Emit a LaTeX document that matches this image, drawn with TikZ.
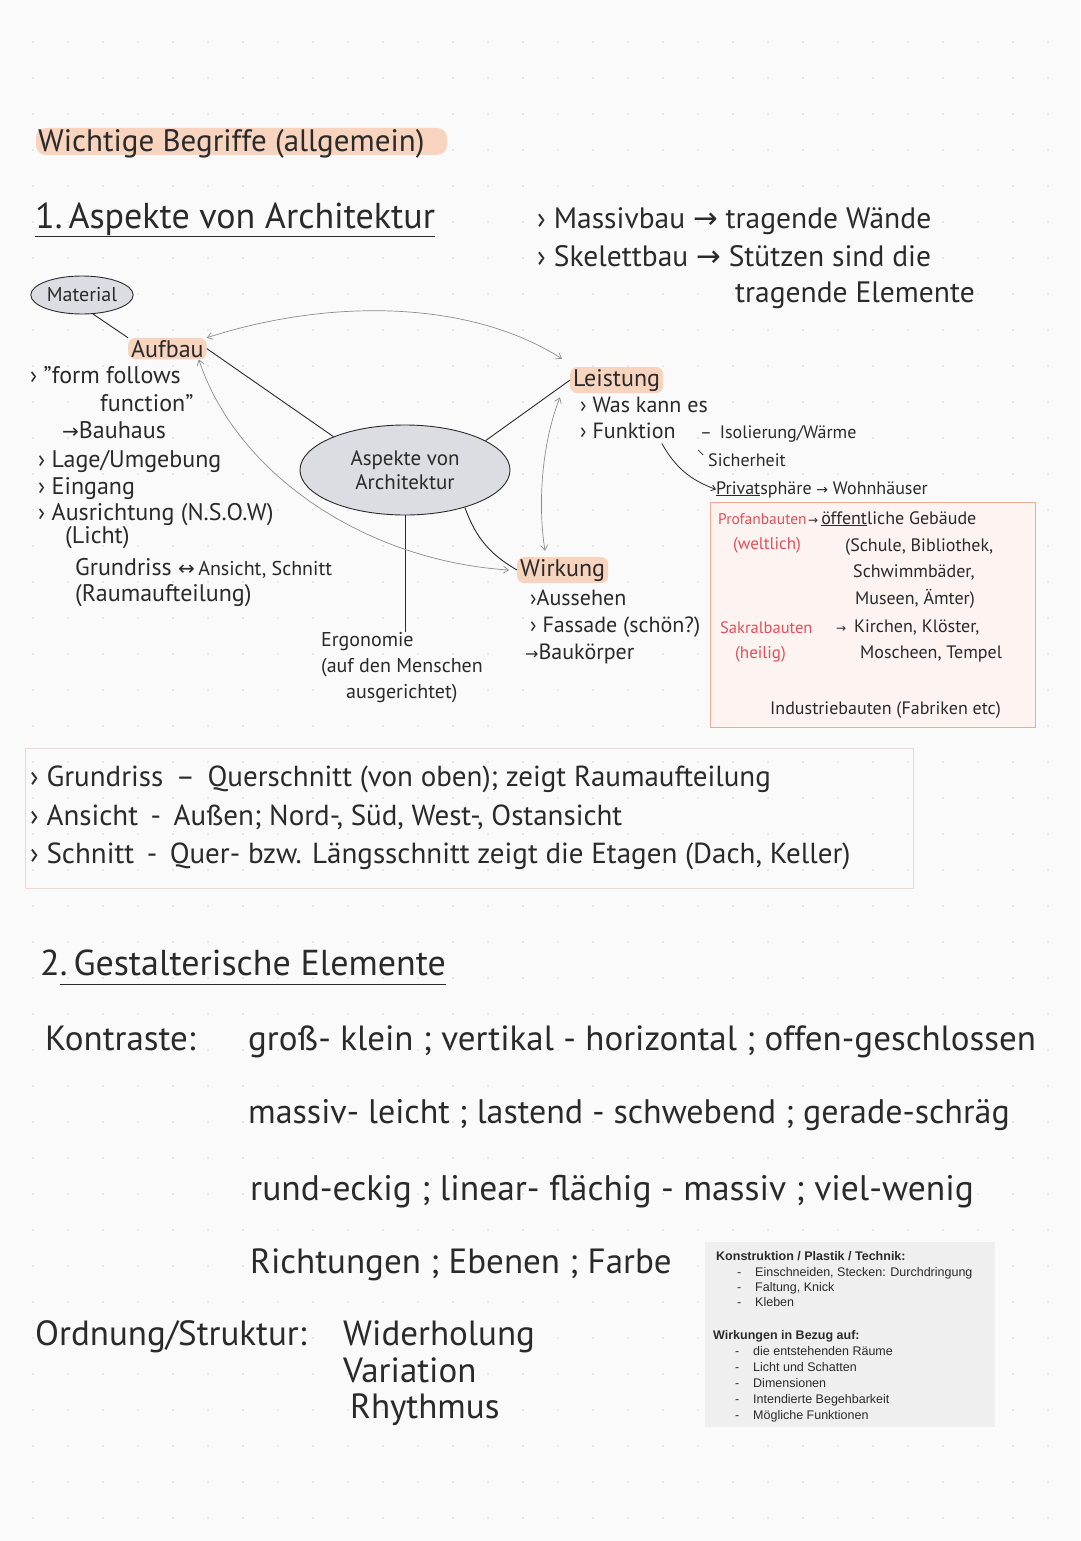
\documentclass[tikz,border=0pt]{standalone}
\usepackage{fontspec}
\setmainfont{PT Sans}
\newfontfamily\sym{DejaVu Sans}
\newfontfamily\typed{Liberation Sans}
\usetikzlibrary{shapes.geometric,arrows.meta}
\definecolor{ink}{HTML}{2A2A2A}
\definecolor{peach}{HTML}{F8D4BE}
\definecolor{redink}{HTML}{E0505A}
\definecolor{boxline}{HTML}{F2A996}
\definecolor{boxfill}{HTML}{FDF4F1}
\definecolor{boxtwoline}{HTML}{EED9D2}
\definecolor{grayarrow}{HTML}{8C8C8C}
\definecolor{bubblegray}{HTML}{DCDCE3}
\definecolor{paper}{HTML}{FAFAFA}
\definecolor{dotc}{HTML}{D6D6D6}
\definecolor{typedbg}{HTML}{EFEFEF}
\begin{document}
\begin{tikzpicture}[x=1pt,y=-1pt,
  txt/.style={anchor=base west, inner sep=0pt, text=ink},
  fs/.style={font=\fontsize{#1}{#1}\selectfont},
  hl/.style={fill=peach, rounded corners=7pt, inner xsep=3pt, inner ysep=2pt},
  bubble/.style={ellipse, draw=ink, fill=bubblegray, line width=0.9pt, text=ink, inner sep=1pt},
  link/.style={draw=ink, line width=0.9pt},
  garrow/.style={draw=grayarrow, line width=0.7pt, {Straight Barb[length=5pt,width=7pt]}-{Straight Barb[length=5pt,width=7pt]}},
  typedtxt/.style={anchor=base west, inner sep=0pt, text=ink, font=\typed\fontsize{12.5}{12.5}\selectfont},
  typedhead/.style={anchor=base west, inner sep=0pt, text=ink, font=\typed\bfseries\fontsize{12.5}{12.5}\selectfont}]
\useasboundingbox[fill=paper] (0,0) rectangle (1080,1541);
% dot grid
\foreach \i in {0,...,29} \foreach \j in {0,...,42} \fill[dotc] (33+35*\i,42+36*\j) circle (0.9pt);

% ---------- title ----------
\fill[peach, rounded corners=10pt] (36,128) rectangle (447,155);
\node[txt,fs=31] (title) at (38,152) {Wichtige Begriffe (allgemein)};

\node[txt,fs=36] (h1) at (35,228) {1.\,Aspekte von Architektur};
\draw[link] ([yshift=-8pt]h1.base west) -- ([yshift=-8pt]h1.base east);

\node[txt,fs=29.5] (mass) at (537,228) {› Massivbau {\sym→} tragende Wände};
\node[txt,fs=29.5] (skel) at (537,266) {› Skelettbau {\sym→} Stützen sind die};
\node[txt,fs=29.5] (skel2) at (735,302) {tragende Elemente};

% ---------- mind map ----------
\node[bubble,fs=20,minimum width=94pt,minimum height=38pt] (mat) at (82,295) {Material};
\node[txt,fs=24,hl] (aufbau) at (128,357) {Aufbau};
\draw[link] (mat.300) -- (aufbau.north west);

\node[txt,fs=24] (l1) at (30,383) {› "form follows};
\node[txt,fs=24] (l2) at (100,411) {function"};
\node[txt,fs=24] (l3) at (62,438) {{\sym\fontsize{20}{20}\selectfont→}Bauhaus};
\node[txt,fs=24] (l4) at (38,467) {› Lage/Umgebung};
\node[txt,fs=24] (l5) at (38,494) {› Eingang};
\node[txt,fs=24] (l6) at (38,520) {› Ausrichtung (N.S.O.W)};
\node[txt,fs=24] (l7) at (65,543) {(Licht)};
\node[txt,fs=24] (l8) at (75,575) {Grundriss \fontsize{20}{20}\selectfont{\sym↔}\,Ansicht, Schnitt};
\node[txt,fs=24] (l9) at (75,601) {(Raumaufteilung)};

\node[bubble,fs=21,minimum width=210pt,minimum height=90pt,align=center] (c) at (405,470) {Aspekte von\\[3pt]Architektur};

\node[anchor=north,inner sep=0pt,fs=20,align=left,text=ink] (ergo) at (402,632) {Ergonomie\\[6pt](auf den Menschen\\[6pt]\hspace*{25pt}ausgerichtet)};

\node[txt,fs=24,hl] (leist) at (570,386) {Leistung};
\node[txt,fs=22] (r1) at (580,412) {› Was kann es};
\node[txt,fs=22] (funk) at (580,438) {› Funktion};
\node[txt,fs=18] (r2) at (700,438) {–\, Isolierung/Wärme};
\node[txt,fs=18] (sich) at (708,466) {Sicherheit};
\draw[link,line width=0.7pt] (698,450) -- (703,455);
\node[txt,fs=18] (priv) at (716,494) {\underline{Privat}sphäre {\sym\fontsize{14}{14}\selectfont→} Wohnhäuser};
\draw[link,line width=0.8pt,-{Straight Barb[length=4pt,width=6pt]}] ([xshift=-14pt,yshift=-5pt]funk.south east) to[bend right=20] (priv.west);

\node[txt,fs=24,hl] (wirk) at (517,576) {Wirkung};
\node[txt,fs=22] (w1) at (530,605) {›Aussehen};
\node[txt,fs=22] (w2) at (530,632) {› Fassade (schön?)};
\node[txt,fs=22] (w3) at (525,659) {{\sym\fontsize{16}{16}\selectfont→}Baukörper};

% connectors
\draw[link] (c.155) -- (aufbau.east);
\draw[link] (c.20) -- (leist.west);
\draw[link] (c.-32) to[bend right=20] (wirk.west);
\draw[link] (c.south) -- (c.south |- ergo.north);
\draw[garrow] (aufbau.north east) .. controls (330,298) and (470,300) .. ([xshift=-8pt,yshift=8pt]leist.north west);
\draw[garrow] ([xshift=-8pt]aufbau.south east) .. controls (235,470) and (360,560) .. ([xshift=-8pt]wirk.west);
\draw[garrow] ([xshift=-10pt,yshift=-4pt]leist.south west) .. controls (543,440) and (537,500) .. ([xshift=28pt,yshift=6pt]wirk.north west);

% red box
\draw[draw=boxline,fill=boxfill,line width=0.8pt] (710,502) rectangle (1035,727);
\node[txt,fs=15.5,text=redink] (prof) at (718,524) {Profanbauten};
\node[txt,fs=18] (oeff) at (808,524) {{\sym\fontsize{12}{12}\selectfont→}\,\underline{öffent}liche Gebäude};
\node[txt,fs=17,text=redink] (welt) at (733,549) {(weltlich)};
\node[txt,fs=18] (schule) at (845,551) {(Schule, Bibliothek,};
\node[txt,fs=18] (schwimm) at (853,577) {Schwimmbäder,};
\node[txt,fs=18] (museen) at (855,604) {Museen, Ämter)};
\node[txt,fs=16.5,text=redink] (sakral) at (720,633) {Sakralbauten};
\node[txt,fs=18] (kirchen) at (836,632) {{\sym\fontsize{12}{12}\selectfont→}\, Kirchen, Klöster,};
\node[txt,fs=17,text=redink] (heilig) at (735,658) {(heilig)};
\node[txt,fs=18] (mosch) at (860,658) {Moscheen, Tempel};
\node[txt,fs=18] (indu) at (770,714) {Industriebauten (Fabriken etc)};

% ---------- definitions box ----------
\draw[draw=boxtwoline,line width=0.8pt] (25,748) rectangle (913,888);
\node[txt,fs=29] (g1) at (30,786) {› Grundriss \,–\, Querschnitt (von oben); zeigt Raumaufteilung};
\node[txt,fs=29] (g2) at (30,825) {› Ansicht \,-\, Außen; Nord-, Süd, West-, Ostansicht};
\node[txt,fs=29] (g3) at (30,863) {› Schnitt \,-\, Quer- bzw. Längsschnitt zeigt die Etagen (Dach, Keller)};

% ---------- section 2 ----------
\node[txt,fs=36] (h2) at (40,975) {2.\,Gestalterische Elemente};
\draw[link] ([xshift=20pt,yshift=-9pt]h2.base west) -- ([yshift=-9pt]h2.base east);

\node[txt,fs=35] (kon) at (45,1050) {Kontraste:};
\node[txt,fs=35] (k1) at (248,1050) {groß- klein ; vertikal - horizontal ; offen-geschlossen};
\node[txt,fs=34] (k2) at (248,1123) {massiv- leicht ; lastend - schwebend ; gerade-schräg};
\node[txt,fs=35.5] (k3) at (250,1200) {rund-eckig ; linear- flächig - massiv ; viel-wenig};
\node[txt,fs=35] (k4) at (250,1273) {Richtungen ; Ebenen ; Farbe};

\node[txt,fs=35] (ord) at (35,1345) {Ordnung/Struktur:};
\node[txt,fs=35] (o1) at (343,1345) {Widerholung};
\node[txt,fs=35] (o2) at (343,1382) {Variation};
\node[txt,fs=35] (o3) at (350,1418) {Rhythmus};

% ---------- typed box ----------
\fill[typedbg] (705,1242) rectangle (995,1427);
\node[typedhead] (th1) at (716,1260) {Konstruktion / Plastik / Technik:};
\node[typedtxt] (d1) at (737,1276) {-};
\node[typedtxt] (t1) at (755,1276) {Einschneiden, Stecken: Durchdringung};
\node[typedtxt] (d2) at (737,1291) {-};
\node[typedtxt] (t2) at (755,1291) {Faltung, Knick};
\node[typedtxt] (d3) at (737,1306) {-};
\node[typedtxt] (t3) at (755,1306) {Kleben};
\node[typedhead] (th2) at (713,1339) {Wirkungen in Bezug auf:};
\node[typedtxt] (d4) at (735,1355) {-};
\node[typedtxt] (t4) at (753,1355) {die entstehenden Räume};
\node[typedtxt] (d5) at (735,1371) {-};
\node[typedtxt] (t5) at (753,1371) {Licht und Schatten};
\node[typedtxt] (d6) at (735,1387) {-};
\node[typedtxt] (t6) at (753,1387) {Dimensionen};
\node[typedtxt] (d7) at (735,1403) {-};
\node[typedtxt] (t7) at (753,1403) {Intendierte Begehbarkeit};
\node[typedtxt] (d8) at (735,1419) {-};
\node[typedtxt] (t8) at (753,1419) {Mögliche Funktionen};
\end{tikzpicture}
\end{document}
